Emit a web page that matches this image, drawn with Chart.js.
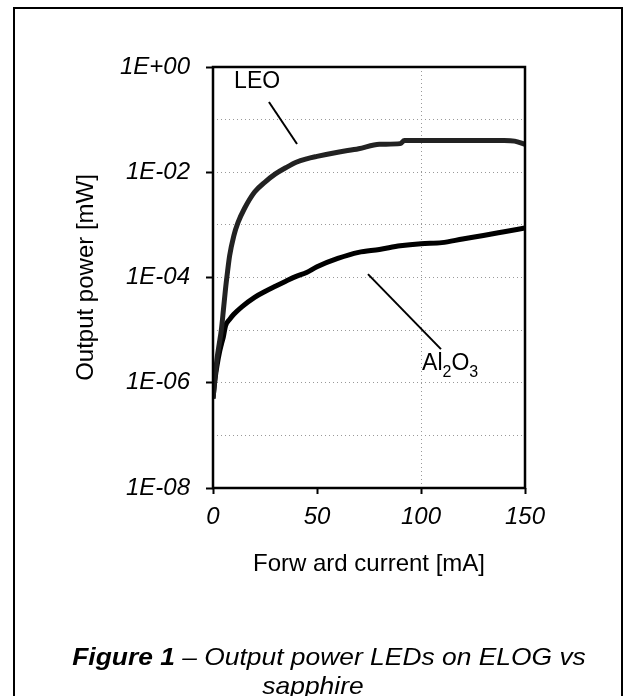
<!DOCTYPE html>
<html>
<head>
<meta charset="utf-8">
<script src="https://cdn.jsdelivr.net/npm/chart.js@4"></script>
<style>
  html, body { margin: 0; padding: 0; background: #fff; }
  #wrap { position: relative; width: 636px; height: 696px; overflow: hidden; }
  #frame { position: absolute; left: 13px; top: 7px; width: 610px; height: 720px; border: 2px solid #000; box-sizing: border-box; }
  canvas { position: absolute; left: 0; top: 0; }
  .cap { position: absolute; font-family: "Liberation Sans", Arial, sans-serif; font-style: italic; font-size: 24px; line-height: 28px; white-space: nowrap; transform: translateX(-50%) scaleX(1.1); color: #000; }
</style>
</head>
<body>
<div id="wrap">
  <div id="frame"></div>
  <canvas id="ledChart" width="636" height="696"></canvas>
  <div class="cap" style="left:329px; top:643px;"><b>Figure 1</b> – Output power LEDs on ELOG vs</div>
  <div class="cap" style="left:313px; top:672px;">sapphire</div>
</div>
<script>
// values (current in mA, power in mW)
const currentLEO = [0, 1, 2, 3, 4, 5, 6, 7, 8, 10, 12, 15, 20, 25, 30, 35, 40, 45, 50, 60, 70, 80, 90, 92, 100, 110, 120, 130, 140, 145, 150];
const powerLEO = [5e-7, 1.3e-6, 3e-6, 5.5e-6, 1e-5, 2.4e-5, 6e-5, 1.3e-4, 2.6e-4, 6.2e-4, 1.1e-3, 2.0e-3, 4.2e-3, 6.5e-3, 9.3e-3, 1.22e-2, 1.55e-2, 1.8e-2, 2.0e-2, 2.4e-2, 2.8e-2, 3.4e-2, 3.5e-2, 4.0e-2, 4.0e-2, 4.0e-2, 4.0e-2, 4.0e-2, 4.0e-2, 3.9e-2, 3.4e-2];

const currentSapphire = [0, 1, 2, 3, 4, 5, 6, 8, 10, 14, 20, 25, 30, 35, 40, 45, 50, 60, 70, 80, 90, 100, 110, 120, 130, 140, 150];
const powerSapphire = [5e-7, 1.2e-6, 2.2e-6, 3.6e-6, 5.3e-6, 7.5e-6, 1.2e-5, 1.6e-5, 2e-5, 2.8e-5, 4.2e-5, 5.4e-5, 6.8e-5, 8.5e-5, 1.05e-4, 1.25e-4, 1.6e-4, 2.3e-4, 3.0e-4, 3.4e-4, 4.0e-4, 4.4e-4, 4.6e-4, 5.4e-4, 6.3e-4, 7.4e-4, 8.7e-4];

const xTickValues = [0, 50, 100, 150];
const yTickValues = [1, 1e-1, 1e-2, 1e-3, 1e-4, 1e-5, 1e-6, 1e-7, 1e-8];

function expOf(v) {
    return Math.round(Math.log10(v));
}

function sciLabel(v) {
    const e = expOf(v);
    const a = Math.abs(e);
    return '1E' + (e >= 0 ? '+' : '-') + (a < 10 ? '0' + a : a);
}

// callouts, in data units
const notes = {
    leo: { text: [21.2, 0.52], line: [[26.9, 0.216], [40.4, 0.0344]] },
    sapphire: { text: [100.5, 1.74e-6], line: [[74.5, 1.16e-4], [109.6, 4.35e-6]] }
};

const FONT = '"Liberation Sans", Arial, sans-serif';

const framePlugin = {
    id: 'frame',
    afterDatasetsDraw(chart) {
        const ctx = chart.ctx;
        const a = chart.chartArea;
        const xs = chart.scales.x;
        const ys = chart.scales.y;
        ctx.save();
        ctx.strokeStyle = '#000';
        ctx.lineWidth = 2.5;
        ctx.strokeRect(a.left, a.top, a.right - a.left, a.bottom - a.top);

        ctx.lineWidth = 2;
        [notes.leo, notes.sapphire].forEach(function (n) {
            ctx.beginPath();
            ctx.moveTo(xs.getPixelForValue(n.line[0][0]), ys.getPixelForValue(n.line[0][1]));
            ctx.lineTo(xs.getPixelForValue(n.line[1][0]), ys.getPixelForValue(n.line[1][1]));
            ctx.stroke();
        });

        ctx.fillStyle = '#000';
        ctx.font = '23px ' + FONT;
        ctx.textAlign = 'center';
        ctx.textBaseline = 'middle';
        ctx.fillText('LEO', xs.getPixelForValue(notes.leo.text[0]), ys.getPixelForValue(notes.leo.text[1]));

        // Al2O3 with subscripts
        let x = xs.getPixelForValue(notes.sapphire.text[0]);
        const y = ys.getPixelForValue(notes.sapphire.text[1]);
        ctx.textAlign = 'left';
        ctx.textBaseline = 'alphabetic';
        const parts = [['Al', 0, 23], ['2', 7, 16], ['O', 0, 23], ['3', 7, 16]];
        parts.forEach(function (p) {
            ctx.font = p[2] + 'px ' + FONT;
            ctx.fillText(p[0], x, y + p[1]);
            x += ctx.measureText(p[0]).width;
        });
        ctx.restore();
    }
};

const ctx = document.getElementById('ledChart').getContext('2d');
new Chart(ctx, {
    type: 'scatter',
    data: {
        datasets: [{
            label: 'LEO',
            data: currentLEO.map((c, i) => ({ x: c, y: powerLEO[i] })),
            showLine: true,
            borderColor: '#222',
            borderWidth: 5,
            pointRadius: 0,
            cubicInterpolationMode: 'monotone'
        }, {
            label: 'Al2O3',
            data: currentSapphire.map((c, i) => ({ x: c, y: powerSapphire[i] })),
            showLine: true,
            borderColor: '#000',
            borderWidth: 5,
            pointRadius: 0,
            cubicInterpolationMode: 'monotone'
        }]
    },
    options: {
        responsive: false,
        animation: false,
        layout: { padding: { left: 0, top: 67, right: 111, bottom: 0 } },
        plugins: { legend: { display: false }, tooltip: { enabled: false } },
        scales: {
            x: {
                type: 'linear',
                min: 0,
                max: 150,
                afterBuildTicks: (scale) => { scale.ticks = xTickValues.map(v => ({ value: v })); },
                afterFit: (scale) => { scale.height = 208; },
                ticks: {
                    color: '#000',
                    padding: 9,
                    font: { family: FONT, size: 24, style: 'italic' }
                },
                grid: {
                    color: (c) => (c.tick && c.tick.value === 100 ? '#999' : 'rgba(0,0,0,0)'),
                    tickColor: '#000',
                    tickBorderDash: [],
                    tickLength: 6,
                    tickWidth: 2
                },
                border: { display: false, dash: [1, 3] },
                title: {
                    display: true,
                    text: 'Forw ard current [mA]',
                    color: '#000',
                    font: { family: FONT, size: 24 },
                    padding: { top: 0, bottom: 117 }
                }
            },
            y: {
                type: 'logarithmic',
                min: 1e-8,
                max: 1,
                afterBuildTicks: (scale) => { scale.ticks = yTickValues.map(v => ({ value: v })); },
                afterFit: (scale) => { scale.width = 213; },
                ticks: {
                    autoSkip: false,
                    color: '#000',
                    padding: 16,
                    font: { family: FONT, size: 24, style: 'italic' },
                    callback: (v) => (expOf(v) % 2 === 0 ? sciLabel(v) : '')
                },
                grid: {
                    color: '#999',
                    tickColor: (c) => (c.tick && expOf(c.tick.value) % 2 === 0 ? '#000' : 'rgba(0,0,0,0)'),
                    tickBorderDash: [],
                    tickLength: 7,
                    tickWidth: 2
                },
                border: { display: false, dash: [1, 3] },
                title: {
                    display: true,
                    text: 'Output power [mW]',
                    color: '#000',
                    font: { family: FONT, size: 24 },
                    padding: { top: 72, bottom: 0 }
                }
            }
        }
    },
    plugins: [framePlugin]
});
</script>
</body>
</html>
